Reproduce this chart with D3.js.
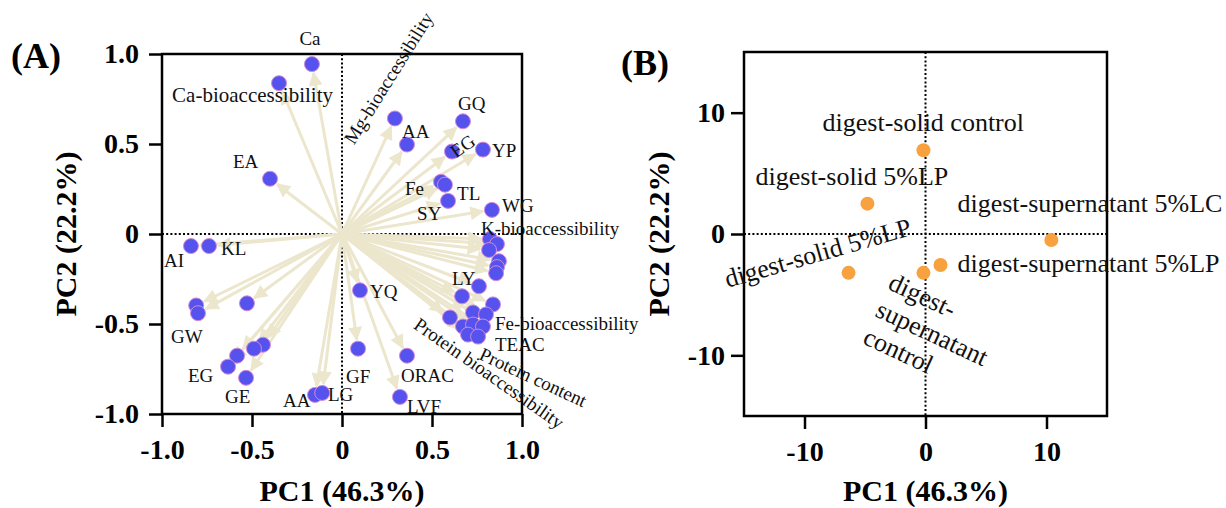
<!DOCTYPE html>
<html>
<head>
<meta charset="utf-8">
<script type="text/javascript" src="https://d3js.org/d3.v7.min.js"></script>
<style>
  body { margin: 0; background: #fff; }
  svg { display: block; }
</style>
</head>
<body>
<div id="chart"></div>
<script type="text/javascript">
  const w = 1226
  const h = 508

  // ---- panel A: loadings (PC1, PC2) ----
  const loadX = [-0.167, -0.35, -0.40, -0.839, -0.739, -0.81, -0.80, -0.528, -0.439, -0.489, -0.583, -0.633, -0.533,
                 -0.15, -0.11, 0.10, 0.089, 0.361, 0.322, 0.294, 0.361, 0.672, 0.611, 0.783, 0.55, 0.572, 0.589, 0.833,
                 0.822, 0.861, 0.817, 0.872, 0.861, 0.856, 0.761, 0.667, 0.839, 0.728, 0.80, 0.60, 0.672, 0.728, 0.783,
                 0.70, 0.756]
  const loadY = [0.944, 0.838, 0.307, -0.067, -0.067, -0.397, -0.44, -0.385, -0.615, -0.637, -0.676, -0.737, -0.799,
                 -0.894, -0.883, -0.313, -0.637, -0.676, -0.905, 0.642, 0.497, 0.626, 0.458, 0.469, 0.29, 0.274, 0.184, 0.134,
                 -0.028, -0.056, -0.089, -0.151, -0.184, -0.218, -0.29, -0.346, -0.391, -0.436, -0.447, -0.464, -0.514, -0.503, -0.514,
                 -0.559, -0.57]

  // label text, anchor in data units, rotation
  const labelA = ["Ca", "Ca-bioaccessibility", "EA", "AI", "KL", "GW", "EG", "GE", "AA", "LG", "GF", "ORAC", "LVF", "YQ",
                  "Mg-bioaccessibility", "AA", "GQ", "EG", "YP", "Fe", "TL", "SY", "WG", "K-bioaccessibility", "LY",
                  "Fe-bioaccessibility", "TEAC", "Protein content", "Protein bioaccessibility"]
  const labelAx = [-0.178, -0.944, -0.606, -0.989, -0.672, -0.95, -0.856, -0.65, -0.328, -0.078, 0.022, 0.328, 0.361, 0.156,
                   0.067, 0.333, 0.644, 0.633, 0.833, 0.35, 0.639, 0.417, 0.889, 0.772, 0.611,
                   0.85, 0.85, 0.756, 0.392]
  const labelAy = [1.05, 0.732, 0.369, -0.184, -0.117, -0.603, -0.821, -0.939, -0.961, -0.927, -0.827, -0.821, -0.994, -0.358,
                   0.492, 0.531, 0.687, 0.419, 0.43, 0.218, 0.19, 0.078, 0.123, -0.006, -0.285,
                   -0.531, -0.648, -0.693, -0.52]
  const labelArot = [0, 0, 0, 0, 0, 0, 0, 0, 0, 0, 0, 0, 0, 0,
                     -58, 0, 0, -35, 0, 0, 0, 0, 0, 0, 0,
                     0, 0, 25, 35]

  const ticksA = [-1, -0.5, 0, 0.5, 1]

  // ---- panel B: scores ----
  const sampleB = ["digest-solid control", "digest-solid 5%LP", "digest-supernatant 5%LC",
                   "digest-supernatant 5%LP", "digest-supernatant control", "digest-solid 5%LP"]
  const scoreX = [-0.17, -4.8, 10.4, 1.24, -0.17, -6.36]
  const scoreY = [6.9, 2.5, -0.5, -2.55, -3.2, -3.2]
  const labelBx = [-8.51, -14.05, 2.64, 2.64, -3.2, -16.36]
  const labelBy = [8.48, 4.03, 1.81, -3.13, -4.5, -4.44]
  const labelBrot = [0, 0, 0, 0, 25, -16]

  const ticksB = [-10, 0, 10]

  const serif = "'Liberation Serif', 'Times New Roman', serif"

  const svg = d3.select("#chart")
                .append("svg")
                .attr("width", w)
                .attr("height", h)
                .attr("viewBox", [0, 0, w, h])

  const xA = d3.scaleLinear().domain([-1, 1]).range([162, 522])
  const yA = d3.scaleLinear().domain([-1, 1]).range([414, 54])
  const xB = d3.scaleLinear().domain([-15, 15]).range([744, 1107])
  const yB = d3.scaleLinear().domain([-15, 15]).range([416, 52])

  // draws frame, zero lines, ticks and titles of one panel
  function frame(x, y, ticks, fmt, ypad, titleGap, letter, letterPos) {
    const [x0, x1] = x.range()
    const [y0, y1] = y.range()

    svg.append("g")
      .attr("stroke", "#000")
      .attr("stroke-width", 2)
      .attr("stroke-dasharray", "2,2.2")
      .call(g => g.append("line").attr("x1", x(0)).attr("x2", x(0)).attr("y1", y1).attr("y2", y0))
      .call(g => g.append("line").attr("x1", x0).attr("x2", x1).attr("y1", y(0)).attr("y2", y(0)))

    svg.append("rect")
      .attr("x", x0).attr("y", y1)
      .attr("width", x1 - x0).attr("height", y0 - y1)
      .attr("fill", "none")
      .attr("stroke", "#000")
      .attr("stroke-width", 2.5)

    const xAxis = svg.append("g")
      .attr("transform", `translate(0, ${y0})`)
      .call(d3.axisBottom(x).tickValues(ticks).tickFormat(fmt).tickSize(13).tickPadding(12))
    const yAxis = svg.append("g")
      .attr("transform", `translate(${x0}, 0)`)
      .call(d3.axisLeft(y).tickValues(ticks).tickFormat(fmt).tickSize(13).tickPadding(ypad))

    ;[xAxis, yAxis].forEach(g => {
      g.select(".domain").remove()
      g.selectAll(".tick line").attr("stroke", "#000").attr("stroke-width", 2.5)
      g.selectAll(".tick text")
        .attr("fill", "#000")
        .attr("font-family", serif)
        .attr("font-weight", "bold")
        .attr("font-size", "28px")
    })

    svg.append("text")
      .attr("x", (x0 + x1) / 2)
      .attr("y", 501)
      .attr("text-anchor", "middle")
      .attr("font-family", serif)
      .attr("font-weight", "bold")
      .attr("font-size", "30px")
      .text("PC1 (46.3%)")

    svg.append("text")
      .attr("transform", `translate(${x0 - titleGap}, ${(y0 + y1) / 2}) rotate(-90)`)
      .attr("text-anchor", "middle")
      .attr("font-family", serif)
      .attr("font-weight", "bold")
      .attr("font-size", "30px")
      .text("PC2 (22.2%)")

    svg.append("text")
      .attr("x", letterPos[0])
      .attr("y", letterPos[1])
      .attr("font-family", serif)
      .attr("font-weight", "bold")
      .attr("font-size", "36px")
      .text(letter)
  }

  const fmtA = d => d == 0 ? "0" : d3.format(".1f")(d).replace("−", "-")
  const fmtB = d => String(d)

  frame(xA, yA, ticksA, fmtA, 10, 86, "(A)", [11, 68])
  frame(xB, yB, ticksB, fmtB, 6, 75, "(B)", [621, 75])

  // ---- panel A arrows ----
  svg.append("defs").append("marker")
      .attr("id", "head")
      .attr("viewBox", "0 0 10 10")
      .attr("refX", 9)
      .attr("refY", 5)
      .attr("markerWidth", 16)
      .attr("markerHeight", 14)
      .attr("markerUnits", "userSpaceOnUse")
      .attr("orient", "auto")
    .append("path")
      .attr("d", "M0,0L10,5L0,10z")
      .attr("fill", "#ece6cd")

  const ox = xA(0), oy = yA(0)
  svg.append("g")
    .selectAll("line")
    .data(d3.range(loadX.length))
    .join("line")
      .attr("x1", ox)
      .attr("y1", oy)
      .attr("x2", i => {
        const dx = xA(loadX[i]) - ox, dy = yA(loadY[i]) - oy
        const len = Math.hypot(dx, dy)
        return ox + dx * (len - 9) / len
      })
      .attr("y2", i => {
        const dx = xA(loadX[i]) - ox, dy = yA(loadY[i]) - oy
        const len = Math.hypot(dx, dy)
        return oy + dy * (len - 9) / len
      })
      .attr("stroke", "#ece6cd")
      .attr("stroke-width", 3)
      .attr("marker-end", "url(#head)")

  svg.append("g")
    .selectAll("circle")
    .data(d3.range(loadX.length))
    .join("circle")
      .attr("cx", i => xA(loadX[i]))
      .attr("cy", i => yA(loadY[i]))
      .attr("r", 7.5)
      .attr("fill", "#5552ee")
      .attr("stroke", "#d58ad8")
      .attr("stroke-width", 1)

  svg.append("g")
    .selectAll("text")
    .data(labelA)
    .join("text")
      .attr("transform", (d, i) => `translate(${xA(labelAx[i])}, ${yA(labelAy[i])}) rotate(${labelArot[i]})`)
      .attr("text-anchor", (d, i) => i == 0 ? "middle" : "start")
      .attr("font-family", serif)
      .attr("font-size", (d, i) => i == 1 ? "21px" : "19px")
      .attr("fill", "#111")
      .text(d => d)

  // ---- panel B ----
  svg.append("g")
    .selectAll("circle")
    .data(sampleB)
    .join("circle")
      .attr("cx", (d, i) => xB(scoreX[i]))
      .attr("cy", (d, i) => yB(scoreY[i]))
      .attr("r", 7)
      .attr("fill", "#f8a13f")

  svg.append("g")
    .selectAll("text")
    .data(sampleB)
    .join("text")
      .attr("transform", (d, i) => `translate(${xB(labelBx[i])}, ${yB(labelBy[i])}) rotate(${labelBrot[i]})`)
      .attr("font-family", serif)
      .attr("font-size", "26px")
      .attr("fill", "#111")
      .each(function(d, i) {
        // the supernatant control label is wrapped on three lines
        const lines = i == 4 ? ["digest-", "supernatant", "control"] : [d]
        d3.select(this).selectAll("tspan")
          .data(lines)
          .join("tspan")
            .attr("x", 0)
            .attr("dy", (l, k) => k == 0 ? 0 : 30)
            .text(l => l)
      })
</script>
</body>
</html>
